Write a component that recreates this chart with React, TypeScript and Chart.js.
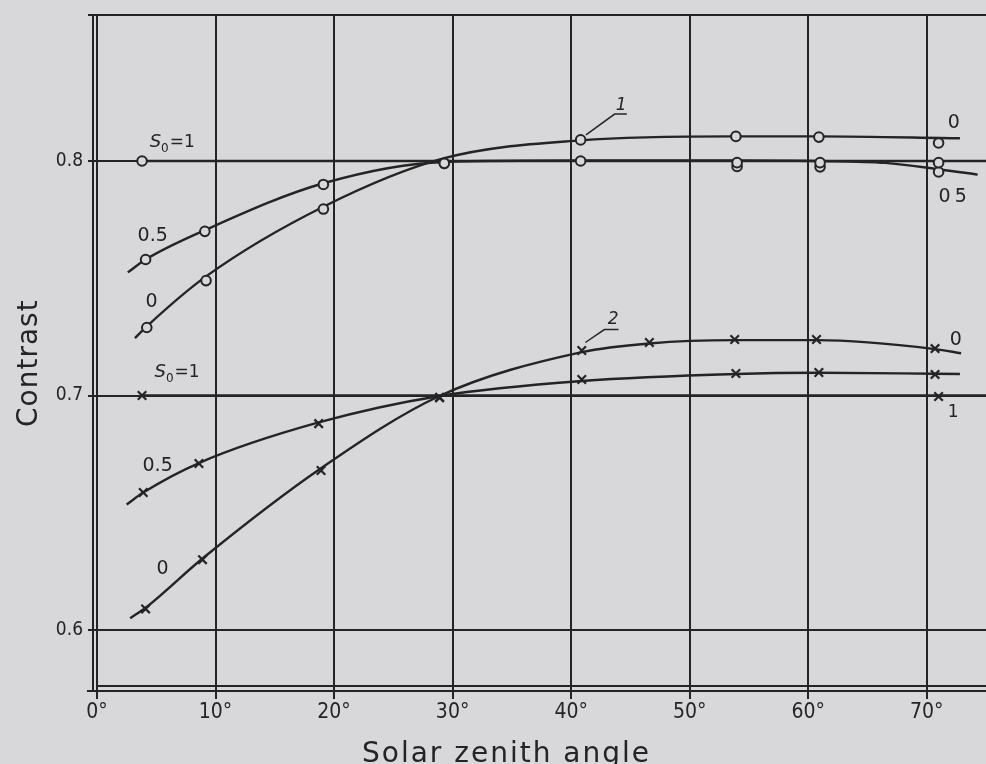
import React, { useEffect, useRef } from "react";
import { Chart, registerables } from "chart.js";

Chart.register(...registerables);

// ---------- axes ----------
const xTicks = [0, 10, 20, 30, 40, 50, 60, 70];
const yTicks = [0.6, 0.7, 0.8];
const xTitle = "Solar zenith angle";
const yTitle = "Contrast";

// ---------- curve 1 (circles) ----------
const c1S1MarkX = [3.8, 54.0, 61.0, 71.0];
const c1S1MarkY = [0.8, 0.7993, 0.7993, 0.7993];
const c1S05MarkX = [4.1, 9.1, 19.1, 29.3, 40.8, 54.0, 61.0, 71.0];
const c1S05MarkY = [0.758, 0.77, 0.79, 0.799, 0.8, 0.7977, 0.7975, 0.7953];
const c1S0MarkX = [4.2, 9.2, 19.1, 29.3, 40.8, 53.9, 60.9, 71.0];
const c1S0MarkY = [0.729, 0.749, 0.7795, 0.799, 0.809, 0.8105, 0.8102, 0.8077];

const c1S1LineX = [3.8, 75];
const c1S1LineY = [0.8, 0.8];
const c1S05LineX = [2.6, 4.1, 9.1, 19.1, 29.3, 40.8, 54, 61, 66.5, 71, 74.3];
const c1S05LineY = [0.7525, 0.758, 0.7705, 0.7905, 0.7996, 0.8002, 0.8002, 0.8, 0.7992, 0.7965, 0.7942];
const c1S0LineX = [3.2, 4.2, 9.2, 19.1, 29.3, 40.8, 53.9, 60.9, 72.8];
const c1S0LineY = [0.7245, 0.7295, 0.7508, 0.7805, 0.8012, 0.8088, 0.8105, 0.8105, 0.8097];

// ---------- curve 2 (crosses) ----------
const c2S1MarkX = [3.8, 71.0];
const c2S1MarkY = [0.7, 0.6996];
const c2S05MarkX = [3.9, 8.6, 18.7, 28.9, 40.9, 53.9, 60.9, 70.7];
const c2S05MarkY = [0.6586, 0.671, 0.688, 0.6992, 0.7068, 0.7094, 0.7098, 0.709];
const c2S0MarkX = [4.1, 8.9, 18.9, 28.9, 40.9, 46.6, 53.8, 60.7, 70.7];
const c2S0MarkY = [0.609, 0.63, 0.668, 0.699, 0.7192, 0.7226, 0.7239, 0.7239, 0.72];

const c2S1LineX = [3.8, 75];
const c2S1LineY = [0.7, 0.7];
const c2S05LineX = [2.5, 3.9, 8.6, 18.7, 28.9, 40.9, 53.9, 60.9, 70.7, 72.8];
const c2S05LineY = [0.6535, 0.6586, 0.6712, 0.6885, 0.6998, 0.7062, 0.7092, 0.7097, 0.7093, 0.7092];
const c2S0LineX = [2.8, 4.1, 8.9, 18.9, 28.9, 40.9, 46.6, 53.8, 60.7, 70.7, 72.9];
const c2S0LineY = [0.605, 0.6095, 0.6305, 0.669, 0.6998, 0.7185, 0.7222, 0.7236, 0.7236, 0.7198, 0.718];

// ---------- text labels (data coordinates, baseline) ----------
const plainLabels = [
  { text: "0.5", x: 3.42, y: 0.7659, size: 19, italic: false },
  { text: "0", x: 4.1, y: 0.7377, size: 19, italic: false },
  { text: "1", x: 43.76, y: 0.8217, size: 17, italic: true },
  { text: "0", x: 71.77, y: 0.8141, size: 19, italic: false },
  { text: "05", x: 71.0, y: 0.7825, size: 19, italic: false },
  { text: "0.5", x: 3.84, y: 0.6676, size: 19, italic: false },
  { text: "0", x: 5.02, y: 0.6237, size: 19, italic: false },
  { text: "2", x: 43.08, y: 0.7303, size: 17, italic: true },
  { text: "0", x: 71.94, y: 0.7217, size: 19, italic: false },
  { text: "1", x: 71.77, y: 0.691, size: 17, italic: false },
];
const s0Labels = [
  { x: 4.44, y: 0.806 },
  { x: 4.85, y: 0.7081 },
];
const leaderX1 = [41.25, 43.67, 44.7];
const leaderY1 = [0.8111, 0.82, 0.82];
const leaderX2 = [41.2, 42.8, 44.0];
const leaderY2 = [0.7226, 0.7281, 0.7281];

const BG = "rgb(216,216,218)";
const INK = "#242424";
const FONT = "'DejaVu Sans', 'Noto Sans', sans-serif";
const FONT_C = "'DejaVu Sans Condensed', 'Liberation Sans Narrow', 'DejaVu Sans', sans-serif";

const pts = (xs: number[], ys: number[]) => xs.map((x, i) => ({ x, y: ys[i] }));

export default function App() {
  const ref = useRef<HTMLCanvasElement>(null);

  useEffect(() => {
    const canvas = ref.current!;
    const lineDs = (xs: number[], ys: number[]) => ({
      type: "line" as const,
      data: pts(xs, ys),
      borderColor: INK,
      borderWidth: 2.4,
      pointRadius: 0,
      tension: 0.4,
      cubicInterpolationMode: "monotone" as const,
      fill: false,
      order: 2,
    });
    const circleDs = (xs: number[], ys: number[]) => ({
      type: "scatter" as const,
      data: pts(xs, ys),
      pointStyle: "circle",
      pointRadius: 4.8,
      borderWidth: 2,
      borderColor: INK,
      backgroundColor: BG,
      showLine: false,
      order: 0,
    });
    const crossDs = (xs: number[], ys: number[]) => ({
      type: "scatter" as const,
      data: pts(xs, ys),
      pointStyle: "crossRot",
      pointRadius: 6,
      borderWidth: 2.2,
      borderColor: INK,
      backgroundColor: INK,
      showLine: false,
      order: 0,
    });

    const deco = {
      id: "deco",
      beforeDraw(chart: any) {
        const c = chart.ctx;
        c.save();
        c.fillStyle = BG;
        c.fillRect(0, 0, chart.width, chart.height);
        c.restore();
      },
      afterDraw(chart: any) {
        const c = chart.ctx as CanvasRenderingContext2D;
        const { left, top, right, bottom } = chart.chartArea;
        const xs = chart.scales.x;
        const ys = chart.scales.y;
        const px = (v: number) => xs.getPixelForValue(v);
        const py = (v: number) => ys.getPixelForValue(v);
        c.save();
        c.strokeStyle = INK;
        c.lineWidth = 2;
        const seg = (x1: number, y1: number, x2: number, y2: number) => {
          c.beginPath();
          c.moveTo(x1, y1);
          c.lineTo(x2, y2);
          c.stroke();
        };
        seg(left - 9, top, right, top);
        seg(left - 4, top - 1, left - 4, bottom + 5);
        seg(left - 10, bottom + 5, right, bottom + 5);

        // leaders
        c.lineWidth = 1.5;
        for (const [lx, ly] of [[leaderX1, leaderY1], [leaderX2, leaderY2]]) {
          c.beginPath();
          lx.forEach((v, i) => {
            if (i === 0) c.moveTo(px(v), py(ly[i]));
            else c.lineTo(px(v), py(ly[i]));
          });
          c.stroke();
        }

        c.fillStyle = INK;
        c.textBaseline = "alphabetic";
        c.textAlign = "left";
        for (const l of plainLabels) {
          c.font = `${l.italic ? "italic " : ""}${l.size}px ${FONT}`;
          (c as any).letterSpacing = l.text === "05" ? "4px" : "0px";
          c.fillText(l.text, px(l.x), py(l.y));
        }
        (c as any).letterSpacing = "0px";
        for (const s of s0Labels) {
          const x0 = px(s.x);
          const y0 = py(s.y);
          c.font = `italic 18px ${FONT}`;
          c.fillText("S", x0, y0);
          const w = c.measureText("S").width;
          c.font = `12px ${FONT}`;
          c.fillText("0", x0 + w, y0 + 5);
          const w2 = c.measureText("0").width;
          c.font = `17px ${FONT}`;
          c.fillText("=1", x0 + w + w2 + 1, y0);
        }

        // axis titles
        c.font = `28px ${FONT}`;
        (c as any).letterSpacing = "1px";
        c.save();
        c.translate(37, 427);
        c.rotate(-Math.PI / 2);
        c.fillText(yTitle, 0, 0);
        c.restore();
        (c as any).letterSpacing = "2px";
        c.fillText(xTitle, 362, 762);
        (c as any).letterSpacing = "0px";
        c.restore();
      },
    };

    const chart = new Chart(canvas, {
      type: "scatter",
      data: {
        datasets: [
          circleDs(c1S1MarkX, c1S1MarkY),
          circleDs(c1S05MarkX, c1S05MarkY),
          circleDs(c1S0MarkX, c1S0MarkY),
          crossDs(c2S1MarkX, c2S1MarkY),
          crossDs(c2S05MarkX, c2S05MarkY),
          crossDs(c2S0MarkX, c2S0MarkY),
          lineDs(c1S1LineX, c1S1LineY),
          lineDs(c1S05LineX, c1S05LineY),
          lineDs(c1S0LineX, c1S0LineY),
          lineDs(c2S1LineX, c2S1LineY),
          lineDs(c2S05LineX, c2S05LineY),
          lineDs(c2S0LineX, c2S0LineY),
        ] as any,
      },
      options: {
        animation: false,
        responsive: false,
        maintainAspectRatio: false,
        layout: { autoPadding: false, padding: { top: 15, left: 0, right: 0, bottom: 0 } },
        plugins: {
          legend: { display: false },
          tooltip: { enabled: false },
        },
        scales: {
          x: {
            type: "linear",
            min: 0,
            max: 75,
            afterFit: (s: any) => {
              s.height = 78;
              s.paddingLeft = 0;
              s.paddingRight = 0;
            },
            afterBuildTicks: (s: any) => {
              s.ticks = xTicks.map((v) => ({ value: v }));
            },
            ticks: {
              callback: (v: any) => `${v}°`,
              color: INK,
              font: { family: FONT_C, size: 21 },
              padding: 1,
              maxRotation: 0,
              autoSkip: false,
            },
            grid: { color: INK, lineWidth: 2, tickLength: 13, drawTicks: true },
            border: { color: INK, width: 2 },
          },
          y: {
            type: "linear",
            min: 0.57612,
            max: 0.86226,
            afterFit: (s: any) => {
              s.width = 97;
              s.paddingTop = 0;
              s.paddingBottom = 0;
            },
            afterBuildTicks: (s: any) => {
              s.ticks = yTicks.map((v) => ({ value: v }));
            },
            ticks: {
              callback: (v: any) => Number(v).toFixed(1),
              color: INK,
              font: { family: FONT_C, size: 19 },
              padding: 5,
              autoSkip: false,
            },
            grid: { color: INK, lineWidth: 2, tickLength: 9, drawTicks: true },
            border: { color: INK, width: 2 },
          },
        },
      },
      plugins: [deco],
    });
    return () => chart.destroy();
  }, []);

  return (
    <div style={{ position: "absolute", left: 0, top: 0, width: 986, height: 764, background: BG }}>
      <canvas ref={ref} width={986} height={764} style={{ display: "block", width: 986, height: 764 }} />
    </div>
  );
}
